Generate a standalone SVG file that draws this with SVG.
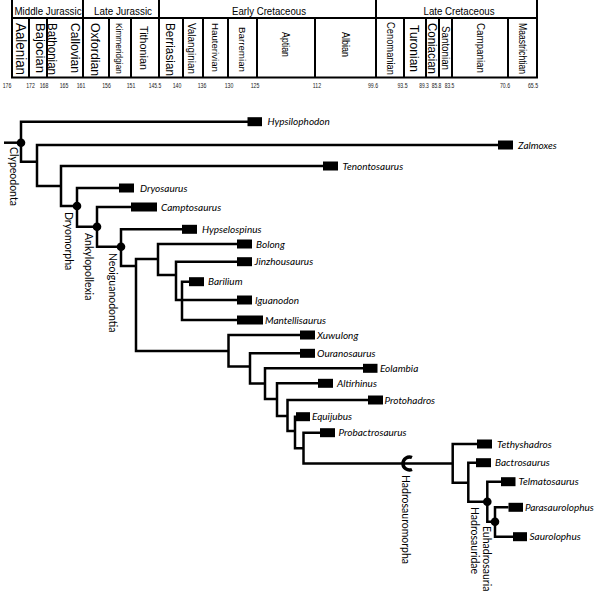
<svg xmlns="http://www.w3.org/2000/svg" width="604" height="596" viewBox="0 0 604 596">
<style>
.hdr{stroke:#000;stroke-width:2;fill:none}
.per{font-family:"Liberation Sans",Arial,sans-serif;font-size:11px;fill:#000;text-anchor:middle}
.stg{font-family:"Liberation Sans",Arial,sans-serif;fill:#000}
.num{font-family:"Liberation Sans",Arial,sans-serif;font-size:8px;fill:#222;text-anchor:middle}
.br{stroke:#000;stroke-width:2.5;fill:none;stroke-linejoin:miter}
.box{fill:#000}
.tx{font-family:Lato,"Open Sans",sans-serif;font-style:italic;font-size:10px;fill:#000}
.cl{font-family:Lato,"Open Sans",sans-serif;font-size:10.5px;fill:#000}
.dot{fill:#000}
</style>
<g id="timescale">
  <path class="hdr" d="M12 0V78M537 0V78M12 18H537M11 77.5H538"/>
  <path class="hdr" d="M83 0V78M159 0V78M376 0V78"/>
  <path class="hdr" d="M29 18V78M47 18V78M109 18V78M131 18V78M183 18V78M203 18V78M228 18V78M257 18V78M315 18V78M404 18V78M426 18V78M439 18V78M452 18V78M508 18V78"/>
  <text class="per" x="48" y="15" textLength="67" lengthAdjust="spacingAndGlyphs">Middle Jurassic</text>
  <text class="per" x="123" y="15" textLength="58" lengthAdjust="spacingAndGlyphs">Late Jurassic</text>
  <text class="per" x="269" y="15" textLength="74" lengthAdjust="spacingAndGlyphs">Early Cretaceous</text>
  <text class="per" x="459" y="15" textLength="71" lengthAdjust="spacingAndGlyphs">Late Cretaceous</text>
  <text class="stg" font-size="14" transform="translate(16,23) rotate(90)" textLength="52" lengthAdjust="spacingAndGlyphs">Aalenian</text>
  <text class="stg" font-size="12.5" transform="translate(35.5,23) rotate(90)" textLength="50" lengthAdjust="spacingAndGlyphs">Bajocian</text>
  <text class="stg" font-size="13.5" transform="translate(47.5,23) rotate(90)" textLength="52" lengthAdjust="spacingAndGlyphs">Bathonian</text>
  <text class="stg" font-size="13.5" transform="translate(70.5,23) rotate(90)" textLength="50" lengthAdjust="spacingAndGlyphs">Callovian</text>
  <text class="stg" font-size="13" transform="translate(91,23) rotate(90)" textLength="53" lengthAdjust="spacingAndGlyphs">Oxfordian</text>
  <text class="stg" font-size="8.5" transform="translate(116,23) rotate(90)" textLength="51" lengthAdjust="spacingAndGlyphs">Kimmeridgian</text>
  <text class="stg" font-size="10.5" transform="translate(140,26) rotate(90)" textLength="44" lengthAdjust="spacingAndGlyphs">Tithonian</text>
  <text class="stg" font-size="12.5" transform="translate(165.5,23) rotate(90)" textLength="53" lengthAdjust="spacingAndGlyphs">Berriasian</text>
  <text class="stg" font-size="10" transform="translate(188,23) rotate(90)" textLength="51" lengthAdjust="spacingAndGlyphs">Valanginian</text>
  <text class="stg" font-size="9.5" transform="translate(212,23) rotate(90)" textLength="49" lengthAdjust="spacingAndGlyphs">Hauterivian</text>
  <text class="stg" font-size="9.5" transform="translate(238.5,27) rotate(90)" textLength="45" lengthAdjust="spacingAndGlyphs">Barremian</text>
  <text class="stg" font-size="11.5" transform="translate(282,32) rotate(90)" textLength="25" lengthAdjust="spacingAndGlyphs">Aptian</text>
  <text class="stg" font-size="11.5" transform="translate(342,32) rotate(90)" textLength="25" lengthAdjust="spacingAndGlyphs">Albian</text>
  <text class="stg" font-size="11.5" transform="translate(387,22) rotate(90)" textLength="53" lengthAdjust="spacingAndGlyphs">Cenomanian</text>
  <text class="stg" font-size="12.5" transform="translate(410,25) rotate(90)" textLength="47" lengthAdjust="spacingAndGlyphs">Turonian</text>
  <text class="stg" font-size="13" transform="translate(427.5,23) rotate(90)" textLength="51" lengthAdjust="spacingAndGlyphs">Coniacian</text>
  <text class="stg" font-size="10.5" transform="translate(442,26) rotate(90)" textLength="44" lengthAdjust="spacingAndGlyphs">Santonian</text>
  <text class="stg" font-size="11" transform="translate(477,23) rotate(90)" textLength="50" lengthAdjust="spacingAndGlyphs">Campanian</text>
  <text class="stg" font-size="10" transform="translate(519,23) rotate(90)" textLength="51" lengthAdjust="spacingAndGlyphs">Maastrichtian</text>
  <text class="num" transform="translate(7,88) scale(0.65,1)">176</text>
  <text class="num" transform="translate(30.5,88) scale(0.65,1)">172</text>
  <text class="num" transform="translate(44,88) scale(0.65,1)">168</text>
  <text class="num" transform="translate(64,88) scale(0.65,1)">165</text>
  <text class="num" transform="translate(81,88) scale(0.65,1)">161</text>
  <text class="num" transform="translate(106.5,88) scale(0.65,1)">156</text>
  <text class="num" transform="translate(131,88) scale(0.65,1)">151</text>
  <text class="num" transform="translate(155,88) scale(0.62,1)">145.5</text>
  <text class="num" transform="translate(177,88) scale(0.65,1)">140</text>
  <text class="num" transform="translate(202,88) scale(0.65,1)">136</text>
  <text class="num" transform="translate(229,88) scale(0.65,1)">130</text>
  <text class="num" transform="translate(255,88) scale(0.65,1)">125</text>
  <text class="num" transform="translate(317,88) scale(0.65,1)">112</text>
  <text class="num" transform="translate(373,88) scale(0.65,1)">99.6</text>
  <text class="num" transform="translate(402.5,88) scale(0.65,1)">93.5</text>
  <text class="num" transform="translate(424,88) scale(0.62,1)">89.3</text>
  <text class="num" transform="translate(436.5,88) scale(0.62,1)">85.8</text>
  <text class="num" transform="translate(449.5,88) scale(0.62,1)">83.5</text>
  <text class="num" transform="translate(505,88) scale(0.65,1)">70.6</text>
  <text class="num" transform="translate(533,88) scale(0.65,1)">65.5</text>
</g>
<g id="connectors">
  <path class="br" d="M4 142.7H21"/>
  <path class="br" d="M248 121.7H21V161.7H37"/>
  <path class="br" d="M498 145H37V186H61"/>
  <path class="br" d="M323 166H61V206H77"/>
  <path class="br" d="M119 188H77V226.7H97"/>
  <path class="br" d="M131 207H97V246.7H121"/>
  <path class="br" d="M182 229.3H121V266H136"/>
  <path class="br" d="M158 259H136V351H228.5"/>
  <path class="br" d="M237 244H158V275H176"/>
  <path class="br" d="M237 261.7H176V300H237"/>
  <path class="br" d="M189 281.7H182V320H237"/>
  <path class="br" d="M300 335H228.5V366.5H250"/>
  <path class="br" d="M300 353.3H250V383.5H265"/>
  <path class="br" d="M363 368.3H265V399H277"/>
  <path class="br" d="M318 383.3H277V416H287.5"/>
  <path class="br" d="M368 400H287.5V431H295"/>
  <path class="br" d="M296 416.7H295V448.3H303.5"/>
  <path class="br" d="M320 432.7H303.5V463.5H452.7"/>
  <path class="br" d="M477 444H452.7V482.7H468.3"/>
  <path class="br" d="M476 462.7H468.3V501.7H487.3"/>
  <path class="br" d="M501 481.7H487.3V521.7H495"/>
  <path class="br" d="M508.5 507.3H495V536.7H513"/>
  <path d="M412 457.5A6.5 6.5 0 1 0 412 469.5" fill="none" stroke="#000" stroke-width="3.5"/>
</g>
<g id="Hypsilophodon"><rect class="box" x="247.5" y="117.2" width="14.5" height="9"/><text class="tx" x="267.5" y="125.2">Hypsilophodon</text></g>
<g id="Zalmoxes"><rect class="box" x="498" y="140.5" width="15" height="9"/><text class="tx" x="518" y="148.5">Zalmoxes</text></g>
<g id="Tenontosaurus"><rect class="box" x="323" y="161.5" width="15" height="9"/><text class="tx" x="342.5" y="169.5">Tenontosaurus</text></g>
<g id="Dryosaurus"><rect class="box" x="119" y="183.5" width="15" height="9"/><text class="tx" x="140" y="191.5">Dryosaurus</text></g>
<g id="Camptosaurus"><rect class="box" x="131" y="202.5" width="26" height="9"/><text class="tx" x="161" y="210.5">Camptosaurus</text></g>
<g id="Hypselospinus"><rect class="box" x="182" y="224.8" width="15" height="9"/><text class="tx" x="202" y="232.8">Hypselospinus</text></g>
<g id="Bolong"><rect class="box" x="237" y="239.5" width="15" height="9"/><text class="tx" x="256" y="247.5">Bolong</text></g>
<g id="Jinzhousaurus"><rect class="box" x="237" y="257.2" width="15" height="9"/><text class="tx" x="254.5" y="265.2">Jinzhousaurus</text></g>
<g id="Barilium"><rect class="box" x="189" y="277.2" width="15" height="9"/><text class="tx" x="208" y="285.2">Barilium</text></g>
<g id="Iguanodon"><rect class="box" x="237" y="295.5" width="15" height="9"/><text class="tx" x="255" y="303.5">Iguanodon</text></g>
<g id="Mantellisaurus"><rect class="box" x="237" y="315.5" width="26" height="9"/><text class="tx" x="265" y="323.5">Mantellisaurus</text></g>
<g id="Xuwulong"><rect class="box" x="300" y="330.5" width="15" height="9"/><text class="tx" x="317" y="338.5">Xuwulong</text></g>
<g id="Ouranosaurus"><rect class="box" x="300" y="348.8" width="15" height="9"/><text class="tx" x="317" y="356.8">Ouranosaurus</text></g>
<g id="Eolambia"><rect class="box" x="363" y="363.8" width="14.5" height="9"/><text class="tx" x="380" y="371.8">Eolambia</text></g>
<g id="Altirhinus"><rect class="box" x="318" y="378.8" width="15" height="9"/><text class="tx" x="337" y="386.8">Altirhinus</text></g>
<g id="Protohadros"><rect class="box" x="368" y="395.5" width="15" height="9"/><text class="tx" x="384.5" y="403.5">Protohadros</text></g>
<g id="Equijubus"><rect class="box" x="296" y="412.2" width="14" height="9"/><text class="tx" x="312" y="420.2">Equijubus</text></g>
<g id="Probactrosaurus"><rect class="box" x="320" y="428.2" width="15" height="9"/><text class="tx" x="338.5" y="436.2">Probactrosaurus</text></g>
<g id="Tethyshadros"><rect class="box" x="477" y="439.5" width="15" height="9"/><text class="tx" x="497" y="447.5">Tethyshadros</text></g>
<g id="Bactrosaurus"><rect class="box" x="476" y="458.2" width="15" height="9"/><text class="tx" x="495" y="466.2">Bactrosaurus</text></g>
<g id="Telmatosaurus"><rect class="box" x="501" y="477.2" width="14.5" height="9"/><text class="tx" x="518.5" y="485.2">Telmatosaurus</text></g>
<g id="Parasaurolophus"><rect class="box" x="508.5" y="502.8" width="14.5" height="9"/><text class="tx" x="525" y="510.8">Parasaurolophus</text></g>
<g id="Saurolophus"><rect class="box" x="513" y="532.2" width="14" height="9"/><text class="tx" x="529.5" y="540.2">Saurolophus</text></g>
<g id="Clypeodonta"><circle class="dot" cx="21" cy="142.7" r="4.3"/><text class="cl" transform="translate(9.5,147) rotate(90)">Clypeodonta</text></g>
<g id="Dryomorpha"><circle class="dot" cx="77" cy="206" r="4.3"/><text class="cl" transform="translate(65,212) rotate(90)">Dryomorpha</text></g>
<g id="Ankylopollexia"><circle class="dot" cx="97" cy="226.7" r="4.3"/><text class="cl" transform="translate(85,233) rotate(90)">Ankylopollexia</text></g>
<g id="Neoiguanodontia"><circle class="dot" cx="121" cy="246.7" r="4.3"/><text class="cl" transform="translate(108.5,253) rotate(90)">Neoiguanodontia</text></g>
<g id="Hadrosauromorpha"><text class="cl" transform="translate(402,475) rotate(90)">Hadrosauromorpha</text></g>
<g id="Hadrosauridae"><circle class="dot" cx="487.3" cy="501.7" r="4.3"/><text class="cl" transform="translate(471,507) rotate(90)">Hadrosauridae</text></g>
<g id="Euhadrosauria"><circle class="dot" cx="495" cy="521.7" r="4.3"/><text class="cl" transform="translate(483,526) rotate(90)">Euhadrosauria</text></g>
</svg>
